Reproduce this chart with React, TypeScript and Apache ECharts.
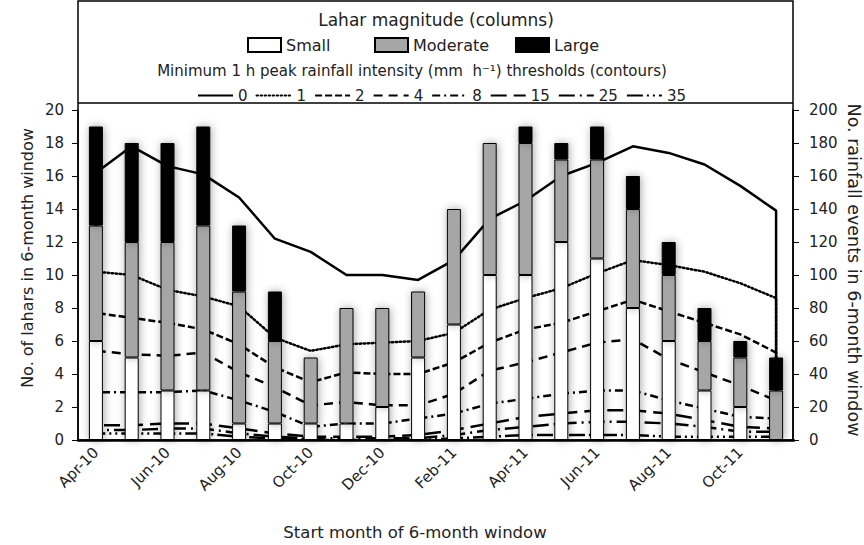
import React, { useEffect, useRef } from "react";
import * as echarts from "echarts";

const months = ["Apr-10","May-10","Jun-10","Jul-10","Aug-10","Sep-10","Oct-10","Nov-10","Dec-10","Jan-11","Feb-11","Mar-11","Apr-11","May-11","Jun-11","Jul-11","Aug-11","Sep-11","Oct-11","Nov-11"];
const small = [6,5,3,3,1,1,1,1,2,5,7,10,10,12,11,8,6,3,2,0];
const moderate = [7,7,9,10,8,5,4,7,6,4,7,8,8,5,6,6,4,3,3,3];
const large = [6,6,6,6,4,3,0,0,0,0,0,0,1,1,2,2,2,2,1,2];

const t0 = [162,178,166,161,147,122,114,100,100,97,109,134,145,160,168,178,174,167,154,139];
const t1 = [102,100,91,87,81,62,54,58,59,60,65,79,86,92,101,109,106,102,95,86];
const t2 = [77,74,71,67,58,44,35,41,40,40,47,59,67,71,78,85,78,71,64,53];
const t4 = [54,52,51,53,41,32,21,23,21,21,28,42,47,53,59,61,49,41,33,24];
const t8 = [29,29,29,30,24,17,8,10,10,13,16,22,25,28,30,30,24,19,14,13];
const t15 = [9,9,10,10,7,4,2,2,2,3,6,10,14,16,18,18,16,12,8,7];
const t25 = [6,6,7,7,4,2,1,1,1,1,3,6,8,10,11,11,10,8,5,5];
const t35 = [4,4,4,4,2,1,0,0,0,0,1,2,3,3,3,3,2,2,2,2];

const magnitudeNames = ["Small", "Moderate", "Large"];
const magnitudeValues = [small, moderate, large];
const magnitudeColors = ["#ffffff", "#a6a6a6", "#000000"];
const thresholdNames = ["0","1","2","4","8","15","25","35"];
const thresholdValues = [t0,t1,t2,t4,t8,t15,t25,t35];
const dashes: any[] = [
  "solid",
  [1.5, 2.5],
  [7, 3],
  [9, 6],
  [8, 4, 2, 4],
  [16, 7],
  [16, 5, 2, 5],
  [16, 4, 2, 4, 2, 4],
];

const FONT = "DejaVu Sans";
const TXT = "#222";

export default function App() {
  const ref = useRef<HTMLDivElement>(null);
  useEffect(() => {
    const chart = echarts.init(ref.current!, null, { renderer: "svg" });
    const lineSeries = thresholdNames.map((name, k) => {
      const vals = thresholdValues[k];
      const data: number[][] = [[0, 0]];
      vals.forEach((v, i) => data.push([i, v]));
      data.push([vals.length - 1, 0]);
      return {
        name,
        type: "line",
        yAxisIndex: 1,
        data,
        symbol: "none",
        z: 1,
        lineStyle: { color: "#000", width: 2.5, type: dashes[k], cap: k === 1 ? "round" : "butt" },
        itemStyle: { color: "#000" },
      };
    });
    const barSeries = magnitudeNames.map((name, k) => ({
      name,
      type: "bar",
      stack: "lahars",
      barWidth: 14,
      z: 3,
      data: magnitudeValues[k],
      itemStyle: {
        color: magnitudeColors[k],
        borderColor: "#000",
        borderWidth: 1,
        shadowBlur: 8,
        shadowColor: "rgba(0,0,0,0.35)",
        shadowOffsetX: 1,
      },
    }));

    const barLegendLefts = [247, 374, 515];
    const barLegends = magnitudeNames.map((name, k) => ({
      data: [name],
      icon: "rect",
      left: barLegendLefts[k],
      top: 37,
      padding: 0,
      itemWidth: 33,
      itemHeight: 14,
      textStyle: { fontFamily: FONT, fontSize: 16, color: TXT },
      itemStyle: { shadowBlur: 0, shadowColor: "transparent" },
      selectedMode: false,
    }));

    chart.setOption({
      animation: false,
      textStyle: { fontFamily: FONT },
      grid: { left: 78, right: 70, top: 110, bottom: 105 },
      legend: [
        ...barLegends,
        {
          data: thresholdNames,
          left: 197,
          top: 88,
          padding: 0,
          itemWidth: 35,
          itemHeight: 14,
          itemGap: 8,
          textStyle: { fontFamily: FONT, fontSize: 15, color: TXT },
          itemStyle: { color: "rgba(0,0,0,0)", borderWidth: 0 },
          selectedMode: false,
        },
      ],
      xAxis: {
        type: "category",
        data: months,
        boundaryGap: true,
        splitLine: { show: false },
        axisTick: { show: false },
        axisLine: { show: true, lineStyle: { color: "#000", width: 2.5 } },
        axisLabel: {
          interval: 1,
          rotate: 45,
          fontSize: 15,
          color: TXT,
          margin: 10,
          fontFamily: FONT,
        },
      },
      yAxis: [
        {
          type: "value",
          min: 0,
          max: 20,
          interval: 2,
          splitLine: { show: false },
          axisLine: { show: true, lineStyle: { color: "#000", width: 1.5 } },
          axisTick: { show: true, length: 6, lineStyle: { color: "#000" } },
          axisLabel: { fontSize: 15, color: TXT, margin: 14, fontFamily: FONT },
        },
        {
          type: "value",
          min: 0,
          max: 200,
          interval: 20,
          position: "right",
          offset: -1,
          splitLine: { show: false },
          axisLine: { show: true, lineStyle: { color: "#000", width: 1.5 } },
          axisTick: { show: true, length: 6, lineStyle: { color: "#000" } },
          axisLabel: { fontSize: 15, color: TXT, margin: 16, fontFamily: FONT },
        },
      ],
      graphic: [
        { type: "rect", shape: { x: 78, y: 1, width: 715, height: 439 }, style: { fill: "none", stroke: "#000", lineWidth: 1.5 }, silent: true, z: 0 },
        { type: "line", shape: { x1: 78, y1: 103, x2: 793, y2: 103 }, style: { stroke: "#000", lineWidth: 1.5 }, silent: true },
        { type: "text", x: 436, y: 20, style: { text: "Lahar magnitude (columns)", fontFamily: FONT, fontSize: 17, fill: TXT, textAlign: "center", textVerticalAlign: "middle" } },
        { type: "text", x: 412, y: 71, style: { text: "Minimum 1 h peak rainfall intensity (mm  h⁻¹) thresholds (contours)", fontFamily: FONT, fontSize: 15, fill: TXT, textAlign: "center", textVerticalAlign: "middle" } },
        { type: "text", x: 27, y: 258, rotation: Math.PI / 2, style: { text: "No. of lahars in 6-month window", fontFamily: FONT, fontSize: 16, fill: TXT, textAlign: "center", textVerticalAlign: "middle" } },
        { type: "text", x: 854, y: 270, rotation: -Math.PI / 2, style: { text: "No. rainfall events in 6-month window", fontFamily: FONT, fontSize: 17.5, fill: TXT, textAlign: "center", textVerticalAlign: "middle" } },
        { type: "text", x: 415, y: 532, style: { text: "Start month of 6-month window", fontFamily: FONT, fontSize: 16.5, fill: TXT, textAlign: "center", textVerticalAlign: "middle" } },
      ],
      series: [...lineSeries, ...barSeries],
    });
    return () => chart.dispose();
  }, []);
  return <div ref={ref} style={{ width: 864, height: 545, position: "absolute", left: 0, top: 0 }} />;
}
